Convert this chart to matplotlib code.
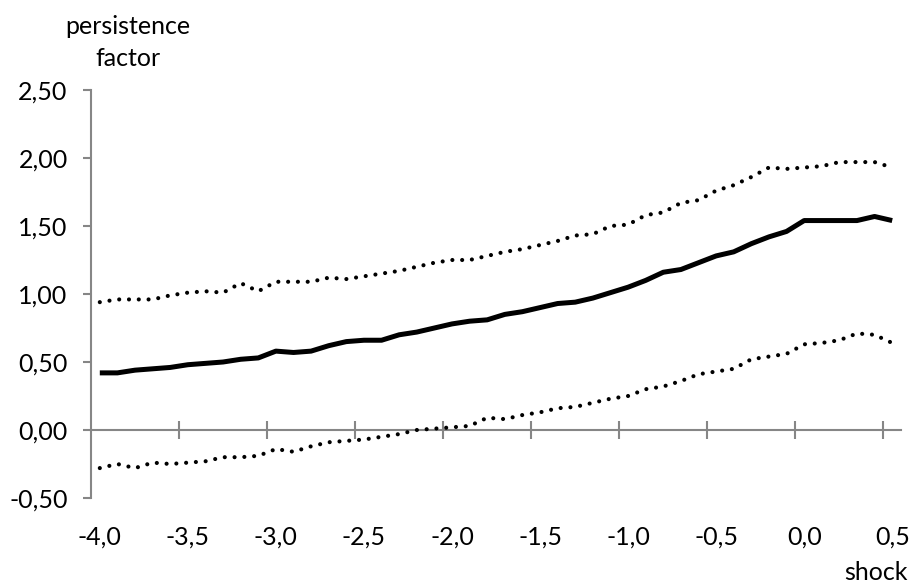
import matplotlib
matplotlib.use("Agg")
import matplotlib.pyplot as plt
from matplotlib.ticker import FixedLocator, FuncFormatter

shock = [-4.0, -3.9, -3.8, -3.7, -3.6, -3.5, -3.4, -3.3, -3.2, -3.1,
         -3.0, -2.9, -2.8, -2.7, -2.6, -2.5, -2.4, -2.3, -2.2, -2.1,
         -2.0, -1.9, -1.8, -1.7, -1.6, -1.5, -1.4, -1.3, -1.2, -1.1,
         -1.0, -0.9, -0.8, -0.7, -0.6, -0.5, -0.4, -0.3, -0.2, -0.1,
         0.0, 0.1, 0.2, 0.3, 0.4, 0.5]

factor = [0.42, 0.42, 0.44, 0.45, 0.46, 0.48, 0.49, 0.50, 0.52, 0.53,
          0.58, 0.57, 0.58, 0.62, 0.65, 0.66, 0.66, 0.70, 0.72, 0.75,
          0.78, 0.80, 0.81, 0.85, 0.87, 0.90, 0.93, 0.94, 0.97, 1.01,
          1.05, 1.10, 1.16, 1.18, 1.23, 1.28, 1.31, 1.37, 1.42, 1.46,
          1.54, 1.54, 1.54, 1.54, 1.57, 1.54]

upper = [0.94, 0.96, 0.96, 0.96, 0.99, 1.01, 1.02, 1.01, 1.08, 1.02,
         1.09, 1.09, 1.09, 1.12, 1.11, 1.13, 1.15, 1.17, 1.20, 1.23,
         1.25, 1.25, 1.28, 1.31, 1.33, 1.36, 1.39, 1.43, 1.44, 1.50,
         1.51, 1.58, 1.60, 1.67, 1.69, 1.76, 1.80, 1.86, 1.93, 1.92,
         1.93, 1.94, 1.97, 1.97, 1.97, 1.93]

lower = [-0.28, -0.25, -0.28, -0.24, -0.25, -0.24, -0.23, -0.20, -0.20, -0.19,
         -0.14, -0.16, -0.12, -0.09, -0.08, -0.07, -0.05, -0.03, 0.00, 0.01,
         0.02, 0.03, 0.09, 0.08, 0.11, 0.13, 0.16, 0.17, 0.20, 0.23,
         0.25, 0.30, 0.32, 0.36, 0.41, 0.43, 0.45, 0.52, 0.54, 0.56,
         0.63, 0.64, 0.66, 0.71, 0.70, 0.64]

y_ticks = [-0.5, 0.0, 0.5, 1.0, 1.5, 2.0, 2.5]
label_every = 5

plt.rcParams['font.family'] = ['Lato', 'DejaVu Sans']
FS = 18
GRAY = '#868686'

fig = plt.figure(figsize=(9.13, 5.82), dpi=100)
ax = fig.add_axes([91 / 913, 84 / 582, 810 / 913, 408 / 582])

idx = list(range(len(shock)))
ax.plot(idx, factor, color='black', lw=3.6, solid_joinstyle='round', solid_capstyle='butt', zorder=3)
for series in (upper, lower):
    ax.plot(idx, series, color='black', lw=3.0, linestyle=(0, (0.001, 2.35)),
            dash_capstyle='round', zorder=3)

ax.set_xlim(-0.5, len(shock) - 0.5)
ax.set_ylim(-0.5, 2.5)

for s in ('top', 'right'):
    ax.spines[s].set_visible(False)
ax.spines['left'].set_color(GRAY)
ax.spines['left'].set_linewidth(1.5)
ax.spines['bottom'].set_color(GRAY)
ax.spines['bottom'].set_linewidth(1.5)
ax.spines['bottom'].set_position(('data', 0))

ax.yaxis.set_major_locator(FixedLocator(y_ticks))
ax.yaxis.set_major_formatter(FuncFormatter(lambda v, p: f"{v:.2f}".replace('.', ',')))
ax.tick_params(axis='y', direction='out', length=5.8, width=1.5, color=GRAY,
               labelsize=FS, pad=11)

bounds = [i - 0.5 for i in range(label_every, len(shock), label_every)]
ax.xaxis.set_major_locator(FixedLocator(bounds))
ax.tick_params(axis='x', direction='inout', length=12.7, width=1.5, color=GRAY,
               labelbottom=False)

for i in range(0, len(shock), label_every):
    ax.text(i, -0.0956, f"{shock[i]:.1f}".replace('.', ','), transform=ax.get_xaxis_transform(),
            ha='center', va='center', fontsize=FS)

fig.text(128 / 913, 1 - 27 / 582, 'persistence', ha='center', va='center', fontsize=FS)
fig.text(128 / 913, 1 - 58 / 582, 'factor', ha='center', va='center', fontsize=FS)
fig.text(908 / 913, 1 - 572 / 582, 'shock', ha='right', va='center', fontsize=FS)

fig.savefig('out.png', dpi=100)
